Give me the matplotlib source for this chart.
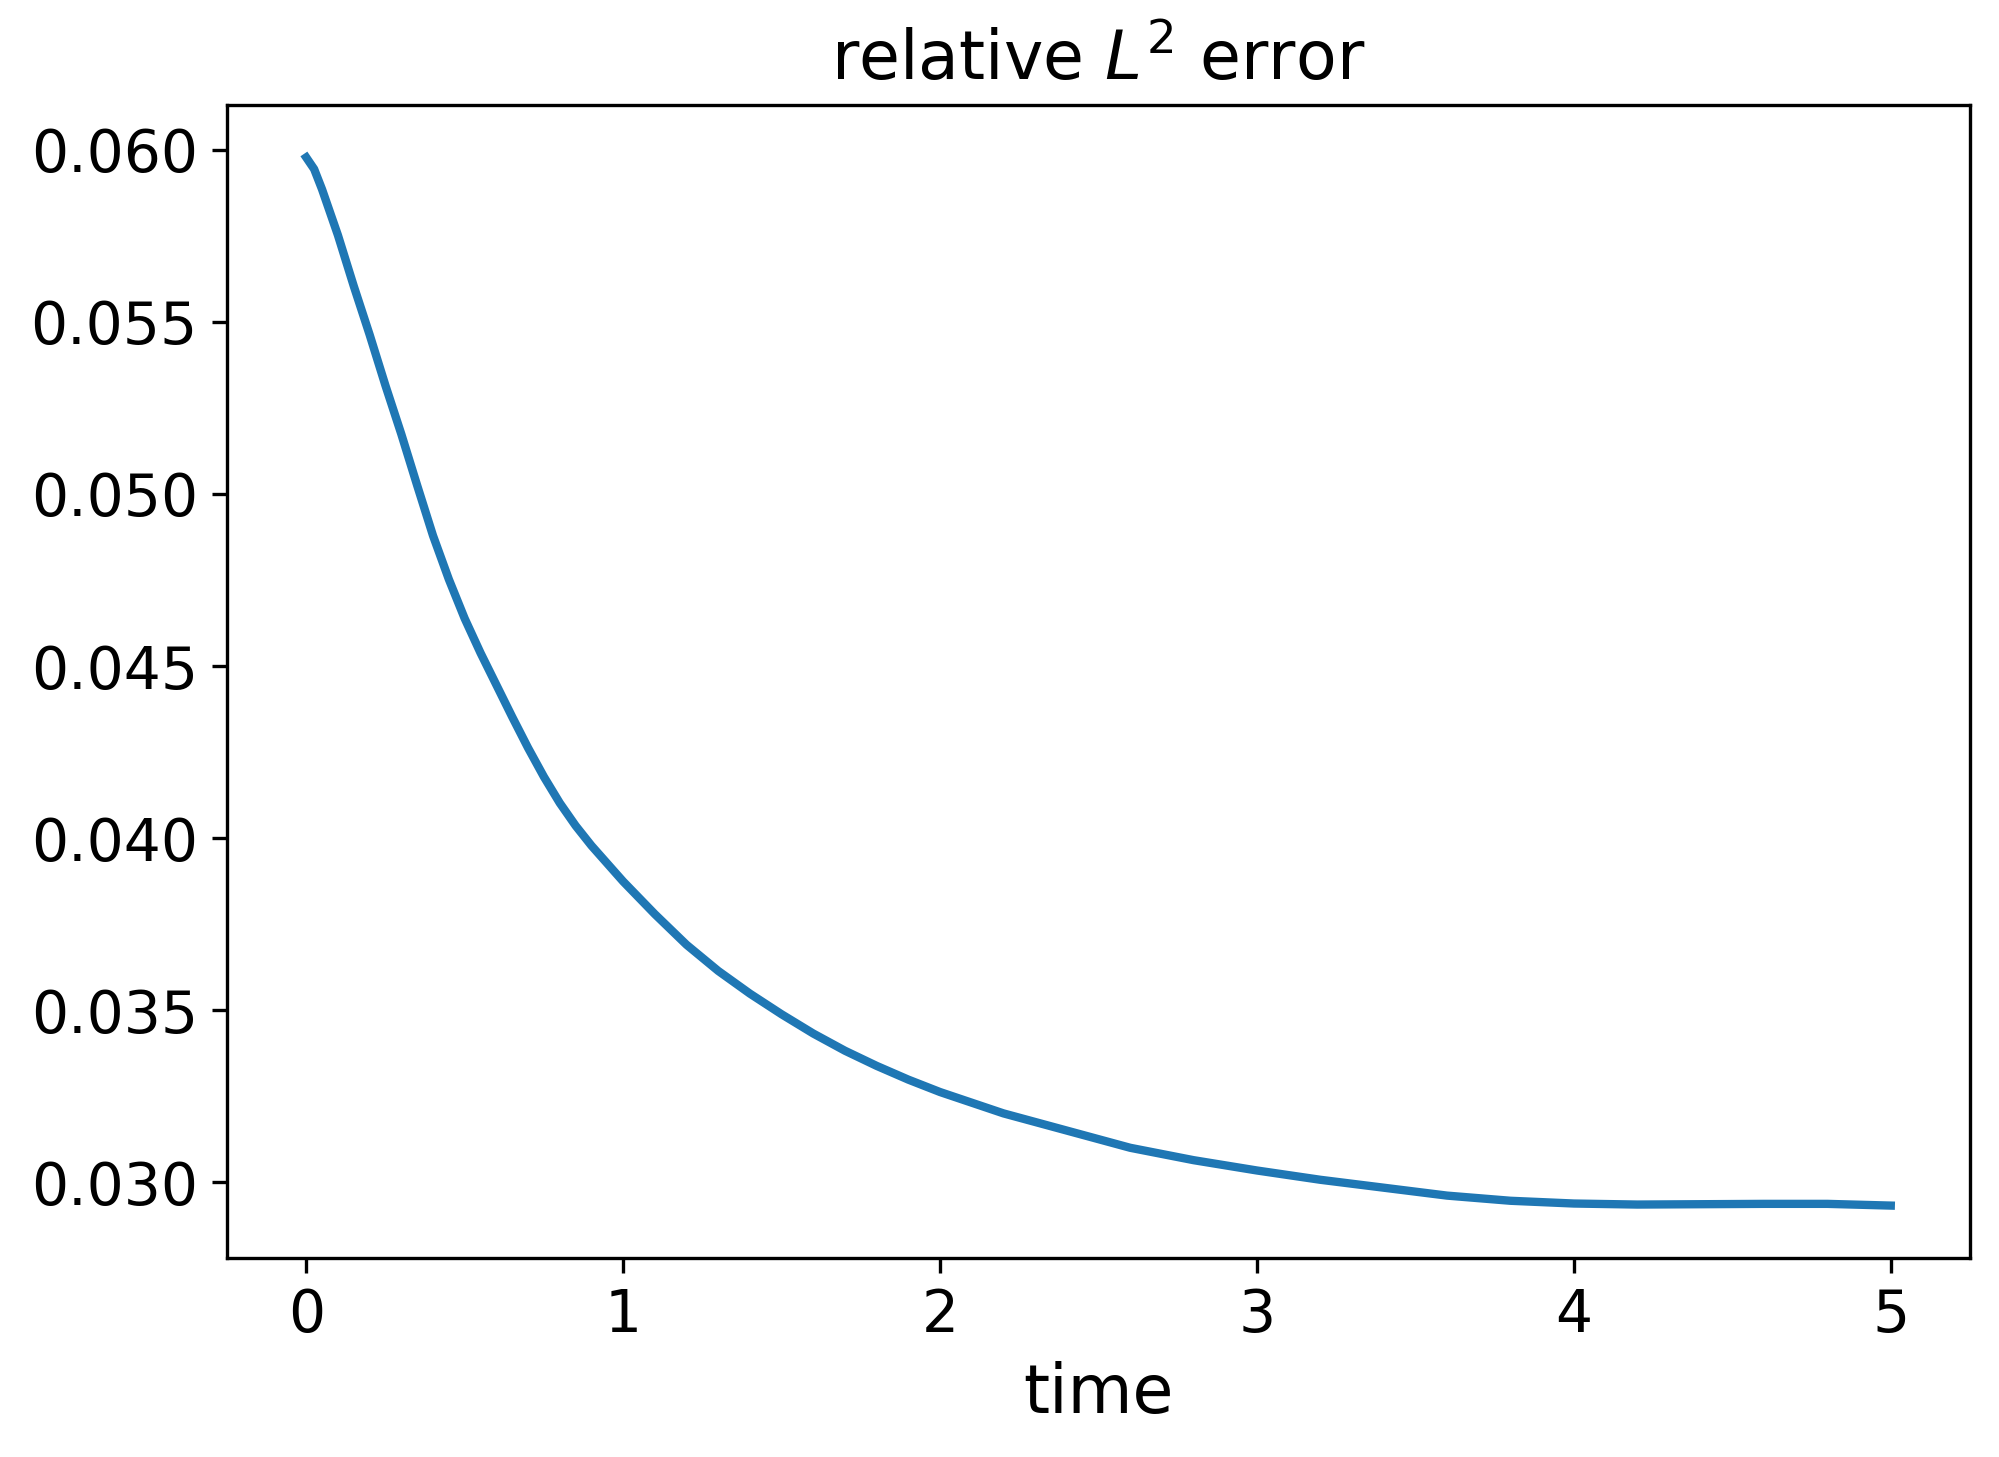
import matplotlib
matplotlib.use("Agg")
import matplotlib.pyplot as plt
import numpy as np

time = [0.0, 0.025, 0.05, 0.1, 0.15, 0.2, 0.25, 0.3, 0.35, 0.4, 0.45, 0.5,
        0.55, 0.6, 0.65, 0.7, 0.75, 0.8, 0.85, 0.9, 1.0, 1.1, 1.2, 1.3, 1.4,
        1.5, 1.6, 1.7, 1.8, 1.9, 2.0, 2.2, 2.4, 2.6, 2.8, 3.0, 3.2, 3.4,
        3.6, 3.8, 4.0, 4.2, 4.4, 4.6, 4.8, 5.0]
rel_error = [0.05978, 0.05944, 0.05885, 0.05752, 0.05604, 0.05463, 0.05315,
             0.05174, 0.05025, 0.04879, 0.04752, 0.04638, 0.04538, 0.04445,
             0.04352, 0.04262, 0.04178, 0.04102, 0.04036, 0.03978, 0.03874,
             0.03779, 0.03690, 0.03614, 0.03548, 0.03488, 0.03432, 0.03382,
             0.03338, 0.03298, 0.03262, 0.03200, 0.03150, 0.03100, 0.03064,
             0.03034, 0.03007, 0.02984, 0.02961, 0.02946, 0.02938, 0.02935,
             0.02936, 0.02937, 0.02937, 0.02932]

fig = plt.figure(figsize=(1999 / 300, 1457 / 300), dpi=300)
ax = fig.add_axes([227 / 1999, 1 - 1258 / 1457, (1970 - 227) / 1999, (1258 - 105) / 1457])
ax.plot(time, rel_error, color="#1f77b4", linewidth=2.0)
ax.set_title(r"relative $L^2$ error", fontsize=16)
ax.set_xlabel("time", fontsize=16)
ax.tick_params(labelsize=14)
ax.set_yticks([0.030, 0.035, 0.040, 0.045, 0.050, 0.055, 0.060])
ax.set_yticklabels(["0.030", "0.035", "0.040", "0.045", "0.050", "0.055", "0.060"])
fig.savefig("out.png", dpi=300)
